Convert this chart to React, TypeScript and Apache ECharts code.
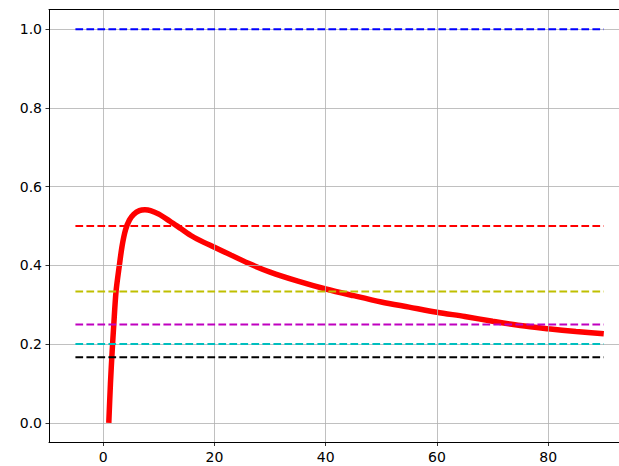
import React, { useEffect, useRef } from "react";
import * as echarts from "echarts";

// Curve (x, y)
const curveX = [1, 1.3, 1.6, 1.9, 2.3, 2.9, 3.4, 4.0, 4.7, 5.5, 6.5, 7.5, 8.5, 10, 12, 14, 16, 18, 20, 23, 26, 30, 35, 40, 45, 50, 55, 60, 65, 70, 75, 80, 85, 90];
const curveY = [0, 0.1, 0.18, 0.25, 0.333, 0.4, 0.45, 0.49, 0.515, 0.53, 0.539, 0.541, 0.539, 0.53, 0.512, 0.493, 0.474, 0.459, 0.446, 0.426, 0.406, 0.383, 0.36, 0.34, 0.323, 0.307, 0.294, 0.281, 0.27, 0.258, 0.247, 0.239, 0.232, 0.226];

// Horizontal dashed reference lines
const refValues = [1, 1 / 2, 1 / 3, 1 / 4, 1 / 5, 1 / 6];
const refColors = ["#0000ff", "#ff0000", "#bfbf00", "#bf00bf", "#00bfbf", "#000000"];
const refStart = -5;
const refEnd = 90;

const xTicks = [0, 20, 40, 60, 80];
const yTicks = [0, 0.2, 0.4, 0.6, 0.8, 1.0];

export default function App() {
  const ref = useRef<HTMLDivElement>(null);
  useEffect(() => {
    if (!ref.current) return;
    const chart = echarts.init(ref.current, undefined, { renderer: "svg", width: 640, height: 466 });
    const font = { fontFamily: "DejaVu Sans", fontSize: 14, color: "#000" };
    const frameLine = { show: true, onZero: false, lineStyle: { color: "#000", width: 1 } };
    const grid = { show: true, lineStyle: { color: "#b0b0b0", width: 0.8 } };
    const refSeries = refValues.map((v, i) => ({
      type: "line",
      data: [
        [refStart, v],
        [refEnd, v],
      ],
      symbol: "none",
      z: 4,
      lineStyle: { color: refColors[i], width: 2, type: [7.7, 3.3] },
    }));
    chart.setOption({
      animation: false,
      grid: {
        left: 49,
        width: 581.2,
        top: 9.5,
        bottom: 23.5,
        show: false,
      },
      xAxis: [
        {
          type: "value",
          min: -9.75,
          max: 94.75,
          z: 3,
          axisLine: frameLine,
          axisTick: { show: true, length: 3.5, lineStyle: { color: "#000", width: 0.8 }, customValues: xTicks },
          axisLabel: { ...font, margin: 7, customValues: xTicks, formatter: (v: number) => String(v) },
          splitLine: grid,
        },
        {
          type: "value",
          position: "top",
          min: -9.75,
          max: 94.75,
          z: 3,
          axisLine: frameLine,
          axisTick: { show: false },
          axisLabel: { show: false },
          splitLine: { show: false },
        },
      ],
      yAxis: [
        {
          type: "value",
          min: -0.05,
          max: 1.05,
          z: 3,
          axisLine: frameLine,
          axisTick: { show: true, length: 3.5, lineStyle: { color: "#000", width: 0.8 }, customValues: yTicks },
          axisLabel: { ...font, margin: 7, customValues: yTicks, formatter: (v: number) => v.toFixed(1) },
          splitLine: grid,
        },
      ],
      series: [
        {
          type: "line",
          data: curveX.map((x, i) => [x, curveY[i]]),
          symbol: "none",
          smooth: 0.3,
          z: 2,
          lineStyle: { color: "#ff0000", width: 5.5, cap: "butt" },
        },
        ...refSeries,
      ],
    });
    return () => chart.dispose();
  }, []);
  return (
    <div style={{ position: "fixed", left: 0, top: 0, width: 619, height: 466, overflow: "hidden", background: "#fff" }}>
      <div ref={ref} style={{ width: 640, height: 466 }} />
    </div>
  );
}
